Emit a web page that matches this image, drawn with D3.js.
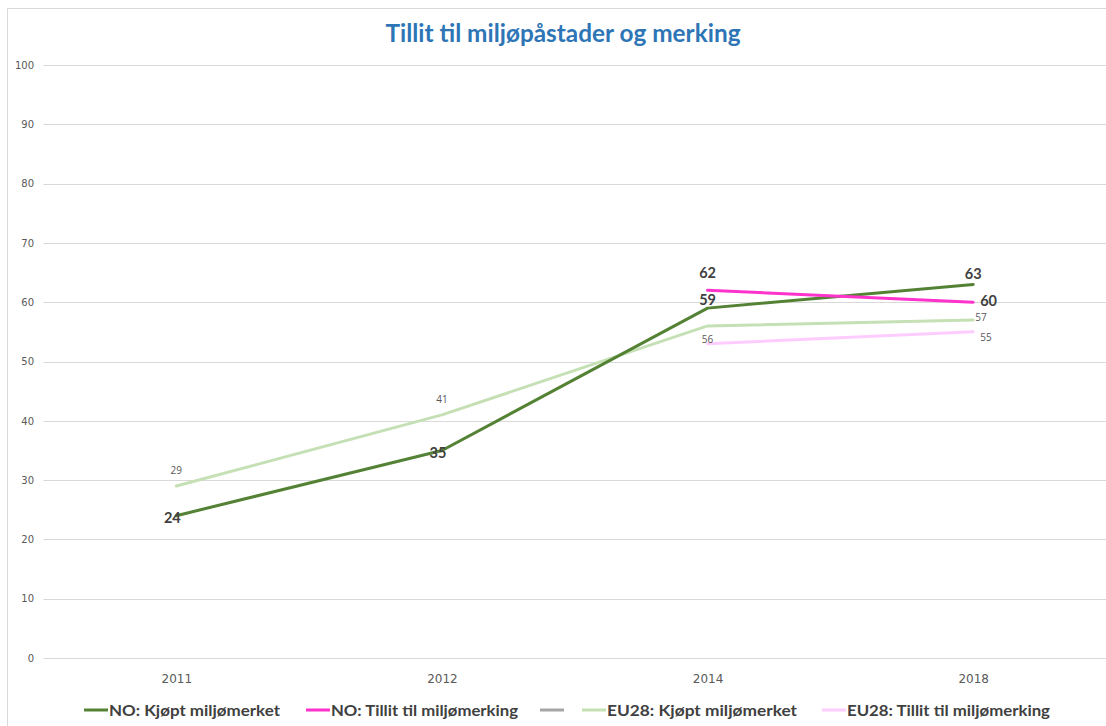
<!DOCTYPE html>
<html><head><meta charset="utf-8">
<script src="https://cdn.jsdelivr.net/npm/d3@7"></script>
<style>
html,body{margin:0;padding:0;background:#fff;}
svg{display:block;font-family:Lato,"Open Sans",sans-serif;}
</style></head>
<body>
<svg id="chart" width="1106" height="726"></svg>
<script>
const titleText = "Tillit til miljøpåstader og merking";
const categories = ["2011", "2012", "2014", "2018"];
const yTicks = [0, 10, 20, 30, 40, 50, 60, 70, 80, 90, 100];
const seriesNames = ["NO: Kjøpt miljømerket", "NO: Tillit til miljømerking", "", "EU28: Kjøpt miljømerket", "EU28: Tillit til miljømerking"];
const noKjopt = [24, 35, 59, 63];
const noTillit = [null, null, 62, 60];
const graySeries = [null, null, null, null];
const euKjopt = [29, 41, 56, 57];
const euTillit = [null, null, 53, 55];
const seriesColors = ["#548235", "#FF33CC", "#A5A5A5", "#C5E0B4", "#FFCCFF"];
// label placement per point (null = no label)
const noKjoptLabelPos = ["center", "center", "above", "above"];
const noTillitLabelPos = [null, null, "above", "right"];
const euKjoptLabelPos = ["above", "above", "below", "right"];
const euTillitLabelPos = [null, null, null, "right"];

const seriesValues = [noKjopt, noTillit, graySeries, euKjopt, euTillit];
const seriesLabelPos = [noKjoptLabelPos, noTillitLabelPos, null, euKjoptLabelPos, euTillitLabelPos];
const seriesBold = [true, true, false, false, false];

const svg = d3.select("#chart");
const W = 1106, H = 726;
const plot = {left: 43.5, right: 1106, top: 65, bottom: 658};

// chart border
svg.append("path").attr("d", `M7.5,${H} V8.5 H${W}`).attr("fill","none").attr("stroke","#d9d9d9").attr("stroke-width",1);

const x = d3.scalePoint().domain(categories).range([plot.left, plot.right]).padding(0.5);
const y = d3.scaleLinear().domain([0, 100]).range([plot.bottom, plot.top]);

// gridlines
svg.append("g").selectAll("line").data(yTicks).join("line")
  .attr("x1", plot.left).attr("x2", plot.right)
  .attr("y1", d => Math.round(y(d)) + 0.5).attr("y2", d => Math.round(y(d)) + 0.5)
  .attr("stroke", "#d9d9d9").attr("stroke-width", 1);

// y axis
const yAxis = d3.axisLeft(y).tickValues(yTicks).tickSize(0).tickPadding(0);
const gy = svg.append("g").attr("transform", `translate(34,0)`).call(yAxis);
gy.select(".domain").remove();
gy.selectAll("text").attr("fill", "#595959").style("font-size", "10px").style("font-family", "'DejaVu Sans',sans-serif").attr("x", 0);

// x axis
const xAxis = d3.axisBottom(x).tickSize(0).tickPadding(0);
const gx = svg.append("g").attr("transform", `translate(0,${plot.bottom})`).call(xAxis);
gx.select(".domain").remove();
gx.selectAll("text").attr("fill", "#595959").style("font-size", "12px").style("font-family", "'DejaVu Sans',sans-serif").attr("dy", "0").attr("y", 25);

// lines
const line = d3.line().defined(d => d.v != null).x(d => x(d.c)).y(d => y(d.v));
const drawOrder = [3, 4, 0, 1];
drawOrder.forEach(i => {
  const data = categories.map((c, j) => ({c, v: seriesValues[i][j]}));
  svg.append("path").datum(data).attr("d", line)
    .attr("fill", "none").attr("stroke", seriesColors[i]).attr("stroke-width", 3)
    .attr("stroke-linejoin", "round").attr("stroke-linecap", "round");
});

// data labels
seriesValues.forEach((vals, i) => {
  const pos = seriesLabelPos[i];
  if (!pos) return;
  const bold = seriesBold[i];
  const fs = bold ? 14.5 : 10;
  vals.forEach((v, j) => {
    const p = pos[j];
    if (!p || v == null) return;
    let px = x(categories[j]), py = y(v), anchor = "middle", base = "central";
    if (p === "above") { py -= bold ? 11 : 16; }
    else if (p === "below") { py += 13; }
    else if (p === "right") { px += 7; anchor = "start"; }
    else if (p === "center") { px -= 4; py += 2; }
    if (i === 1 && p === "above") py -= 7;
    if (i === 1 && p === "right") py -= 2;
    if (i === 4 && p === "right") py += 5;
    if (i === 3 && p === "right") { py -= 3; px -= 5; }
    if (i === 0 && p === "above" && j === 2) py += 2;
    svg.append("text").attr("x", px).attr("y", py)
      .attr("text-anchor", anchor).attr("dominant-baseline", base)
      .attr("fill", bold ? "#404040" : "#595959")
      .style("font-size", fs + "px").style("font-weight", bold ? "bold" : "normal")
      .style("font-family", bold ? "Lato,sans-serif" : "'Open Sans',sans-serif")
      .text(v);
  });
});

// title
svg.append("text").attr("x", 563).attr("y", 42).attr("text-anchor", "middle")
  .attr("fill", "#2E75B6").style("font-size", "24px").style("font-weight", "bold")
  .attr("textLength", 355).attr("lengthAdjust", "spacingAndGlyphs")
  .text(titleText);

// legend
const legendX = [84, 306, 540, 582, 822];
const legendTextLen = [171, 187, 0, 190, 203];
const lg = svg.append("g").attr("transform", "translate(0,710)");
seriesNames.forEach((name, i) => {
  lg.append("line").attr("x1", legendX[i]).attr("x2", legendX[i] + 24).attr("y1", 0).attr("y2", 0)
    .attr("stroke", seriesColors[i]).attr("stroke-width", 3);
  if (name) {
    lg.append("text").attr("x", legendX[i] + 25).attr("y", 0).attr("dominant-baseline", "central")
      .attr("fill", "#404040").style("font-size", "15px").style("font-weight", "bold")
      .attr("textLength", legendTextLen[i]).attr("lengthAdjust", "spacingAndGlyphs")
      .text(name);
  }
});
</script>
</body></html>
